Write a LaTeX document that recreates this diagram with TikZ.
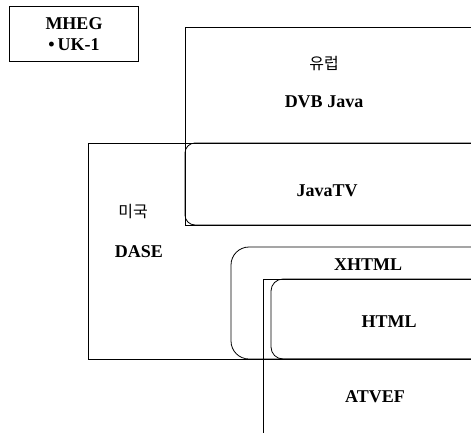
\documentclass[tikz,border=0pt]{standalone}
\usepackage{fontspec}
\setmainfont{Liberation Serif}
\newfontfamily\korfont{Noto Sans CJK KR}
\begin{document}
\begin{tikzpicture}[x=1pt,y=-1pt,
        area/.style={draw,line width=0.8pt},
        roundarea/.style={area,rounded corners=#1},
        title/.style={font=\bfseries\fontsize{18}{20}\selectfont,inner sep=0pt},
        kortitle/.style={font=\korfont\fontsize{16}{18}\selectfont,inner sep=0pt}]
    \useasboundingbox (0,0) rectangle (471,432);
    \clip (0,0) rectangle (471,432);
    \draw[area] (9,6) rectangle (138,61);
    \draw[area] (185,27) rectangle (490,225);
    \draw[roundarea=10pt] (185,143) rectangle (490,225);
    \draw[area] (88,143) rectangle (490,359);
    \draw[roundarea=18pt] (231,247) rectangle (490,359);
    \draw[area] (263,279) rectangle (490,450);
    \draw[roundarea=12pt] (271,279) rectangle (490,359);
    \node[title] (mheg) at (74,24) {MHEG};
    \node[title] (uk) at (74,45) {\textbullet\,UK-1};
    \node[kortitle] (eu) at (324,64) {유럽};
    \node[title] (dvb) at (324,102) {DVB Java};
    \node[title] (javatv) at (327,191) {JavaTV};
    \node[kortitle] (us) at (133,212) {미국};
    \node[title] (dase) at (139,252) {DASE};
    \node[title] (xhtml) at (368,265) {XHTML};
    \node[title] (html) at (389,322) {HTML};
    \node[title] (atvef) at (375,397) {ATVEF};
\end{tikzpicture}
\end{document}
